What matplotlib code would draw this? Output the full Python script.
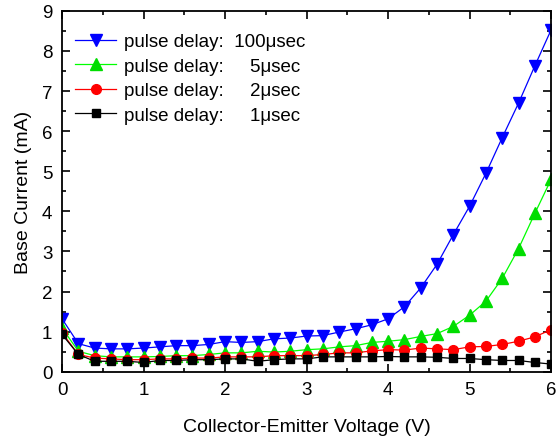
import matplotlib
matplotlib.use("Agg")
import matplotlib.pyplot as plt
from matplotlib.ticker import MultipleLocator

plt.rcParams['font.family'] = ['Liberation Sans', 'DejaVu Sans']

voltage = [0.0, 0.2, 0.4, 0.6, 0.8, 1.0, 1.2, 1.4, 1.6, 1.8, 2.0, 2.2, 2.4, 2.6, 2.8,
           3.0, 3.2, 3.4, 3.6, 3.8, 4.0, 4.2, 4.4, 4.6, 4.8, 5.0, 5.2, 5.4, 5.6, 5.8, 6.0]

delay_100us = [1.32, 0.70, 0.59, 0.57, 0.57, 0.59, 0.62, 0.65, 0.65, 0.68, 0.75, 0.73, 0.75, 0.82, 0.84,
               0.89, 0.90, 0.99, 1.07, 1.17, 1.32, 1.62, 2.09, 2.68, 3.42, 4.13, 4.95, 5.84, 6.70, 7.63, 8.53]
delay_5us = [1.09, 0.51, 0.40, 0.37, 0.37, 0.37, 0.38, 0.40, 0.40, 0.43, 0.47, 0.47, 0.51, 0.49, 0.51,
             0.55, 0.57, 0.62, 0.65, 0.73, 0.76, 0.80, 0.88, 0.95, 1.13, 1.41, 1.76, 2.33, 3.07, 3.95, 4.80]
delay_2us = [0.97, 0.43, 0.34, 0.32, 0.30, 0.30, 0.32, 0.32, 0.34, 0.34, 0.37, 0.37, 0.37, 0.40, 0.40,
             0.40, 0.43, 0.47, 0.47, 0.52, 0.55, 0.54, 0.59, 0.57, 0.55, 0.62, 0.63, 0.68, 0.76, 0.87, 1.05]
delay_1us = [0.93, 0.43, 0.26, 0.26, 0.26, 0.23, 0.28, 0.28, 0.30, 0.30, 0.32, 0.32, 0.26, 0.30, 0.32,
             0.32, 0.37, 0.37, 0.37, 0.37, 0.38, 0.37, 0.37, 0.36, 0.33, 0.33, 0.30, 0.28, 0.28, 0.23, 0.19]

labels = ["pulse delay:  100\u03bcsec", "pulse delay:     5\u03bcsec",
          "pulse delay:     2\u03bcsec", "pulse delay:     1\u03bcsec"]

fig = plt.figure(figsize=(5.59, 4.39), dpi=100)
ax = fig.add_axes([0.111, 0.151, 0.875, 0.822])

ax.plot(voltage, delay_100us, color='#0000ff', lw=0.9, marker='v', ms=8.5, label=labels[0])
ax.plot(voltage, delay_5us, color='#00ff00', lw=0.9, marker='^', mfc='#00dd00', mec='#00dd00', ms=8.5, label=labels[1])
ax.plot(voltage, delay_2us, color='#ff0000', lw=0.9, marker='o', ms=7, label=labels[2])
ax.plot(voltage, delay_1us, color='#000000', lw=0.9, marker='s', ms=6, label=labels[3])

ax.set_xlim(0, 6)
ax.set_ylim(0, 9)
ax.xaxis.set_major_locator(MultipleLocator(1))
ax.xaxis.set_minor_locator(MultipleLocator(0.5))
ax.yaxis.set_major_locator(MultipleLocator(1))
ax.yaxis.set_minor_locator(MultipleLocator(0.5))
ax.tick_params(which='both', direction='in', top=True, right=True, labelsize=13.5, width=1.2, pad=7)
ax.tick_params(which='major', length=6)
ax.tick_params(which='minor', length=3)
for s in ax.spines.values():
    s.set_linewidth(1.3)

ax.set_xlabel("Collector-Emitter Voltage (V)", fontsize=14, labelpad=14)
ax.set_ylabel("Base Current (mA)", fontsize=14, labelpad=7)

ax.legend(loc='upper left', frameon=False, fontsize=13.5, handlelength=2.2,
          handletextpad=0.4, labelspacing=0.4, borderaxespad=0.3, bbox_to_anchor=(0.0, 0.975))

fig.savefig("out.png", dpi=100)
